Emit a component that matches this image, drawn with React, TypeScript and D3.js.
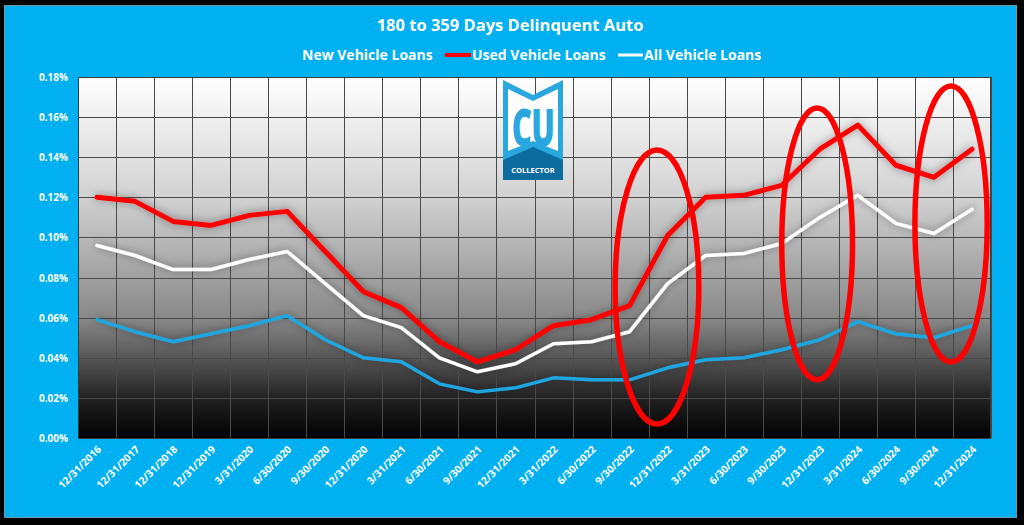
import React from "react";
import * as d3 from "d3";

const categories = [
  "12/31/2016", "12/31/2017", "12/31/2018", "12/31/2019", "3/31/2020", "6/30/2020",
  "9/30/2020", "12/31/2020", "3/31/2021", "6/30/2021", "9/30/2021", "12/31/2021",
  "3/31/2022", "6/30/2022", "9/30/2022", "12/31/2022", "3/31/2023", "6/30/2023",
  "9/30/2023", "12/31/2023", "3/31/2024", "6/30/2024", "9/30/2024", "12/31/2024",
];

// values in percent
const newLoans = [
  0.059, 0.053, 0.048, 0.052, 0.056, 0.061, 0.049, 0.040, 0.038, 0.027, 0.023, 0.025,
  0.030, 0.029, 0.029, 0.035, 0.039, 0.040, 0.044, 0.049, 0.058, 0.052, 0.050, 0.056,
];
const usedLoans = [
  0.120, 0.118, 0.108, 0.106, 0.111, 0.113, 0.093, 0.073, 0.065, 0.048, 0.038, 0.044,
  0.056, 0.059, 0.066, 0.101, 0.120, 0.121, 0.126, 0.144, 0.156, 0.136, 0.130, 0.144,
];
const allLoans = [
  0.096, 0.091, 0.084, 0.084, 0.089, 0.093, 0.077, 0.061, 0.055, 0.040, 0.033, 0.037,
  0.047, 0.048, 0.053, 0.077, 0.091, 0.092, 0.097, 0.110, 0.121, 0.107, 0.102, 0.114,
];
const yTicks = [0, 0.02, 0.04, 0.06, 0.08, 0.1, 0.12, 0.14, 0.16, 0.18];

// annotation ellipses: center (category index, value), radii (categories, value)
const ellipseCx = [14.72, 18.93, 22.45];
const ellipseCy = [0.0753, 0.0968, 0.1067];
const ellipseRx = [1.1, 0.93, 0.95];
const ellipseRy = [0.0683, 0.0678, 0.0688];

const seriesNames = ["New Vehicle Loans", "Used Vehicle Loans", "All Vehicle Loans"];

const W = 1024;
const H = 525;
const PL = 78, PR = 991, PT = 77, PB = 438;
const BG = "#00B0F0";
const NEW_C = "#1EA7E1";
const USED_C = "#FF0000";
const ALL_C = "#FFFFFF";
const FONT = "'Open Sans', Lato, sans-serif";

export default function App() {
  const x = d3.scaleBand<string>().domain(categories).range([PL, PR]).paddingInner(0).paddingOuter(0);
  const xc = (c: string) => (x(c) as number) + x.bandwidth() / 2;
  const xi = d3.scaleLinear().domain([-0.5, categories.length - 0.5]).range([PL, PR]);
  const y = d3.scaleLinear().domain([0, 0.18]).range([PB, PT]);
  const line = d3
    .line<number>()
    .x((_, i) => xc(categories[i]))
    .y((d) => y(d));

  const vLines = categories.map((c) => x(c) as number).concat([PR]);
  const fmt = (v: number) => v.toFixed(2) + "%";

  return (
    <svg
      width={W}
      height={H}
      style={{ position: "fixed", left: 0, top: 0, display: "block" }}
      fontFamily={FONT}
    >
      <defs>
        <linearGradient id="plotBg" x1="0" y1="0" x2="0" y2="1">
          <stop offset="0" stopColor="#ffffff" />
          <stop offset="0.33" stopColor="#d2d2d2" />
          <stop offset="0.55" stopColor="#a2a2a2" />
          <stop offset="0.67" stopColor="#888888" />
          <stop offset="0.78" stopColor="#555555" />
          <stop offset="0.89" stopColor="#222222" />
          <stop offset="1" stopColor="#000000" />
        </linearGradient>
        <filter id="glow" x="-10%" y="-30%" width="120%" height="160%">
          <feDropShadow dx="0" dy="0" stdDeviation="4" floodColor="#000" floodOpacity="0.4" />
        </filter>
      </defs>
      <rect x={0} y={0} width={W} height={H} fill="#000" />
      <rect x={4.5} y={5.5} width={1012} height={512} fill={BG} stroke="#6c98ad" strokeWidth={1} />

      {/* title */}
      <text x={510} y={31} textAnchor="middle" fill="#fff" fontWeight={700} fontSize={16.5}>
        180 to 359 Days Delinquent Auto
      </text>

      {/* legend */}
      <g fontWeight={700} fontSize={14} fill="#fff">
        <text x={302} y={60}>{seriesNames[0]}</text>
        <line x1={445} x2={471} y1={55} y2={55} stroke={USED_C} strokeWidth={4} />
        <text x={472} y={60}>{seriesNames[1]}</text>
        <line x1={618} x2={643} y1={55} y2={55} stroke={ALL_C} strokeWidth={3} />
        <text x={644} y={60}>{seriesNames[2]}</text>
      </g>

      {/* plot background */}
      <rect x={PL} y={PT} width={PR - PL} height={PB - PT} fill="url(#plotBg)" />
      {/* grid */}
      <g stroke="#4a4a4a" strokeWidth={1}>
        {yTicks.map((t) => (
          <line key={"h" + t} x1={PL} x2={PR} y1={Math.round(y(t)) + 0.5} y2={Math.round(y(t)) + 0.5} />
        ))}
        {vLines.map((v, i) => (
          <line key={"v" + i} x1={Math.round(v) + 0.5} x2={Math.round(v) + 0.5} y1={PT} y2={PB} />
        ))}
      </g>
      <rect x={PL + 0.5} y={PT + 0.5} width={PR - PL - 1} height={PB - PT} fill="none" stroke="#3a3a3a" strokeWidth={1} />

      {/* y labels */}
      <g fontWeight={700} fontSize={10} fill="#fff" textAnchor="end">
        {yTicks.map((t) => (
          <text key={t} x={68} y={y(t) + 4}>
            {fmt(t)}
          </text>
        ))}
      </g>

      {/* x labels */}
      <g fontWeight={700} fontSize={10.3} fill="#fff" textAnchor="end">
        {categories.map((c) => (
          <text key={c} transform={`translate(${xc(c) + 5},${PB + 12}) rotate(-45)`}>
            {c}
          </text>
        ))}
      </g>

      {/* logo */}
      <g>
        <polygon points="503,80 533,95 563,80 563,180 503,180" fill="#2aa7df" />
        <polygon points="508,89 533,101 558,89 558,151 533,141 508,151" fill="#ffffff" />
        <polygon points="503,160 533,147 563,160 563,180 503,180" fill="#0d6c9e" />
        <text x={533} y={146} textAnchor="middle" fontSize={40} fontWeight={800} fill="#2aa7df"
          transform="translate(533,146) scale(0.78,1.3) translate(-533,-146)" letterSpacing={-1}>
          CU
        </text>
        <text x={533} y={173} textAnchor="middle" fontSize={7.5} fontWeight={700} fill="#fff">
          COLLECTOR
        </text>
      </g>

      {/* series */}
      <g fill="none" strokeLinejoin="round" strokeLinecap="round" filter="url(#glow)">
        <path d={line(newLoans) || ""} stroke={NEW_C} strokeWidth={3.5} />
        <path d={line(allLoans) || ""} stroke={ALL_C} strokeWidth={3.5} />
        <path d={line(usedLoans) || ""} stroke={USED_C} strokeWidth={5} />
      </g>

      {/* annotation ellipses */}
      <g fill="none" stroke="#FF0000" strokeWidth={5.5}>
        {ellipseCx.map((cx, i) => (
          <ellipse
            key={i}
            cx={xi(cx)}
            cy={y(ellipseCy[i])}
            rx={xi(ellipseRx[i]) - xi(0)}
            ry={y(0) - y(ellipseRy[i])}
          />
        ))}
      </g>
    </svg>
  );
}
